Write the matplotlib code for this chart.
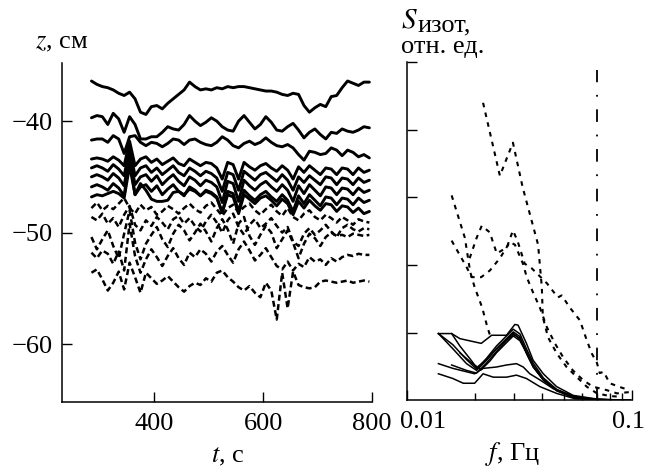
import numpy as np
import matplotlib
matplotlib.use("Agg")
from matplotlib import pyplot as plt
from matplotlib.ticker import NullFormatter
from matplotlib.transforms import ScaledTranslation

plt.rcParams['font.family'] = ['Liberation Serif', 'DejaVu Serif']
plt.rcParams['mathtext.fontset'] = 'stix'
plt.rcParams['font.size'] = 19

# time grid for the level records, s
t = np.arange(285, 800, 10)

# solid records (upper levels), cm
z1 = [-36.4, -36.7, -36.9, -37.0, -37.2, -37.5, -37.7, -37.4, -38.0, -39.2, -39.4, -38.7, -38.6,
      -38.9, -38.4, -38.0, -37.6, -37.2, -36.5, -36.9, -37.2, -37.1, -37.2, -37.0, -37.1, -36.9,
      -37.0, -36.9, -36.9, -37.0, -37.1, -37.2, -37.3, -37.3, -37.4, -37.6, -37.7, -37.5, -37.6,
      -38.6, -39.2, -38.8, -38.5, -38.7, -37.8, -37.7, -37.0, -36.4, -36.6, -36.8, -36.5, -36.5]
z2 = [-39.7, -39.5, -39.6, -40.3, -39.3, -39.8, -41.0, -39.6, -40.3, -41.6, -41.6, -41.4, -41.4,
      -41.0, -40.5, -40.7, -40.8, -40.3, -39.5, -40.0, -40.4, -40.1, -39.7, -40.0, -40.5, -40.8,
      -40.9, -40.0, -39.5, -40.1, -40.7, -40.3, -39.6, -40.1, -40.8, -40.9, -40.5, -40.2, -40.8,
      -41.5, -41.0, -40.7, -41.2, -41.6, -41.0, -41.1, -40.7, -40.9, -41.0, -40.8, -40.5, -40.6]
z3 = [-41.7, -41.6, -41.6, -41.9, -41.3, -41.6, -42.9, -41.4, -41.3, -41.9, -42.2, -41.9, -42.0,
      -42.3, -42.0, -41.6, -41.7, -42.1, -41.7, -41.6, -41.9, -42.1, -42.2, -41.9, -41.4, -41.7,
      -42.2, -42.4, -42.0, -41.8, -42.1, -41.9, -41.5, -41.9, -42.2, -42.3, -42.1, -42.4, -43.0,
      -43.5, -42.7, -42.8, -43.0, -42.9, -42.4, -42.6, -43.1, -42.6, -42.8, -43.2, -43.0, -43.3]
z4 = [-43.4, -43.3, -43.4, -43.6, -43.2, -43.5, -44.0, -41.8, -44.0, -43.4, -43.2, -43.7, -43.4,
      -43.9, -43.6, -43.3, -43.8, -44.0, -43.4, -43.7, -44.0, -43.7, -43.8, -44.2, -45.2, -43.7,
      -43.9, -45.2, -43.7, -44.1, -44.4, -44.0, -43.8, -44.2, -44.5, -44.0, -44.4, -45.2, -44.1,
      -44.6, -44.0, -44.4, -44.8, -44.2, -44.3, -44.8, -44.2, -44.3, -44.8, -44.2, -44.6, -44.4]
z5 = [-44.2, -44.0, -44.2, -44.5, -43.9, -44.3, -44.9, -42.4, -44.9, -44.2, -44.0, -44.6, -44.2,
      -44.8, -44.4, -44.0, -44.6, -44.9, -44.2, -44.5, -44.9, -44.5, -44.7, -45.1, -46.3, -44.6,
      -44.8, -46.2, -44.5, -44.9, -45.3, -44.8, -44.6, -45.0, -45.4, -44.8, -45.3, -46.2, -45.0,
      -45.5, -44.9, -45.3, -45.7, -45.0, -45.1, -45.7, -45.1, -45.2, -45.7, -45.1, -45.5, -45.3]
z6 = [-45.0, -44.8, -45.0, -45.3, -44.7, -45.1, -45.8, -43.0, -45.7, -45.0, -44.8, -45.4, -44.9,
      -45.7, -45.2, -44.8, -45.4, -45.8, -45.0, -45.3, -45.8, -45.3, -45.5, -45.9, -47.3, -45.4,
      -45.6, -47.2, -45.3, -45.8, -46.2, -45.7, -45.4, -45.9, -46.3, -45.7, -46.2, -47.2, -45.8,
      -46.5, -45.7, -46.2, -46.7, -45.9, -46.0, -46.6, -46.0, -46.1, -46.6, -46.0, -46.4, -46.2]
z7 = [-45.9, -45.7, -45.9, -46.2, -45.6, -46.0, -46.7, -43.3, -46.6, -45.9, -45.7, -46.3, -45.8,
      -46.6, -46.1, -45.7, -46.3, -46.7, -45.9, -46.2, -46.7, -46.2, -46.4, -46.8, -48.2, -46.3,
      -46.5, -48.1, -46.2, -46.7, -47.1, -46.6, -46.3, -46.8, -47.2, -46.6, -47.1, -48.1, -46.7,
      -47.4, -46.6, -47.1, -47.6, -46.8, -46.9, -47.5, -46.9, -47.0, -47.5, -46.9, -47.3, -47.1]
z8 = [-46.8, -46.6, -46.7, -46.5, -46.3, -46.5, -46.9, -44.0, -46.6, -45.6, -46.2, -47.0, -47.2,
      -47.2, -47.1, -46.4, -46.3, -46.6, -46.1, -46.3, -46.7, -46.3, -46.5, -46.9, -48.2, -46.6,
      -46.8, -48.3, -46.6, -47.0, -47.4, -46.9, -46.7, -47.1, -47.6, -47.0, -47.4, -48.4, -47.2,
      -47.8, -47.1, -47.6, -48.0, -47.4, -47.5, -48.1, -47.6, -47.7, -48.2, -47.8, -48.3, -48.1]

# dashed records (lower levels), cm
d1 = [-47.8, -47.3, -48.0, -47.6, -47.9, -47.4, -46.9, -47.8, -48.3, -47.5, -48.0, -47.7, -48.4,
      -48.1, -47.6, -47.9, -48.3, -47.8, -47.4, -47.9, -48.2, -47.6, -47.3, -47.9, -48.5, -47.8,
      -47.5, -48.2, -47.7, -47.4, -48.0, -48.4, -47.9, -47.5, -48.1, -48.5, -47.8, -48.6, -48.9,
      -48.3, -48.0, -48.6, -48.9, -48.4, -48.7, -49.1, -48.6, -48.9, -49.3, -48.8, -49.0, -49.1]
d2 = [-48.6, -48.9, -48.3, -49.2, -48.7, -49.5, -48.4, -47.6, -49.3, -49.8, -48.9, -49.4, -48.6,
      -49.1, -49.7, -48.8, -48.5, -49.2, -48.7, -49.4, -49.9, -49.0, -48.4, -49.1, -50.0, -48.9,
      -48.3, -49.5, -50.2, -49.3, -48.8, -49.6, -49.2, -48.7, -49.4, -50.0, -49.5, -50.8, -51.2,
      -50.1, -49.6, -50.2, -49.8, -49.3, -49.9, -50.4, -49.6, -49.3, -49.7, -49.9, -49.6, -49.7]
d3 = [-50.4, -51.5, -50.6, -49.8, -51.2, -52.3, -50.1, -48.0, -50.9, -52.4, -51.0, -50.2, -49.5,
      -50.6, -51.3, -50.1, -49.3, -49.8, -50.7, -50.0, -49.2, -49.9, -50.8, -49.6, -48.8, -49.7,
      -51.0, -49.2, -48.6, -50.3, -51.1, -50.2, -49.4, -50.0, -51.4, -50.6, -49.8, -50.9, -52.3,
      -51.0, -50.1, -50.5, -51.2, -50.4, -50.0, -50.3, -50.2, -50.4, -50.1, -50.2, -50.3, -50.2]
d4 = [-51.8, -52.3, -51.6, -51.9, -52.8, -51.7, -53.4, -49.2, -52.1, -53.6, -52.4, -51.5, -52.2,
      -53.0, -52.1, -51.4, -52.3, -52.9, -51.8, -52.2, -51.5, -51.9, -52.6, -51.7, -51.2, -52.0,
      -52.7, -51.5, -50.8, -51.6, -52.5, -52.0, -51.4, -52.2, -53.0, -53.3, -52.6, -53.4, -52.8,
      -53.1, -52.2, -52.6, -52.4, -52.9, -52.3, -52.6, -52.2, -52.0, -52.1, -51.9, -52.0, -52.0]
d5 = [-53.6, -53.3, -54.2, -55.2, -54.5, -53.5, -55.1, -52.7, -54.0, -55.4, -53.6, -54.1, -54.6,
      -54.3, -53.9, -54.4, -54.9, -55.3, -54.8, -54.5, -54.7, -54.1, -54.4, -53.6, -53.4, -54.0,
      -54.4, -54.9, -55.2, -54.8, -55.4, -55.8, -54.5, -55.2, -57.8, -53.6, -56.8, -53.5, -54.7,
      -54.9, -55.0, -54.9, -54.4, -54.3, -54.4, -54.5, -54.4, -54.3, -54.5, -54.4, -54.3, -54.4]

solid_z = [z1, z2, z3, z4, z5, z6, z7, z8]
dashed_z = [d1, d2, d3, d4, d5]

# spectra, rel. units
spec_dashed = [
    ([0.0218, 0.0259, 0.0296, 0.0327, 0.0383, 0.0398, 0.0402, 0.0424, 0.0464, 0.0513, 0.057, 0.063,
      0.07, 0.08, 0.09],
     [4.40, 3.32, 3.81, 3.15, 2.30, 1.67, 1.23, 0.93, 0.69, 0.49, 0.34, 0.20, 0.10, 0.06, 0.05]),
    ([0.0158, 0.0181, 0.0191, 0.0200, 0.0216, 0.0227, 0.0234],
     [3.03, 2.40, 1.90, 1.67, 1.37, 1.10, 0.96]),
    ([0.0190, 0.0204, 0.0215, 0.0234, 0.0240, 0.0251, 0.0278, 0.0296, 0.0310, 0.0334, 0.0359, 0.0419,
      0.0469, 0.0488, 0.053, 0.0588, 0.063, 0.0664, 0.070, 0.072, 0.075, 0.0797, 0.091, 0.098],
     [2.10, 2.40, 2.58, 2.48, 2.36, 2.17, 2.26, 2.51, 2.36, 2.02, 1.95, 1.73, 1.52, 1.55, 1.37, 1.18,
      0.89, 0.69, 0.55, 0.40, 0.42, 0.25, 0.18, 0.15]),
    ([0.0158, 0.0184, 0.0194, 0.0214, 0.0234, 0.0259, 0.0287, 0.0302, 0.0328, 0.0341, 0.0363, 0.039,
      0.0419, 0.0455, 0.0494, 0.0547, 0.0606, 0.067, 0.077, 0.086, 0.098],
     [2.36, 1.97, 1.82, 1.82, 1.92, 2.10, 2.34, 2.30, 2.02, 1.82, 1.60, 1.37, 1.08, 0.84, 0.64, 0.44,
      0.30, 0.20, 0.15, 0.10, 0.12]),
]
spec_solid = [
    ([0.0138, 0.0158, 0.0172, 0.0214, 0.0238, 0.0277, 0.0302, 0.0312, 0.034, 0.0364, 0.0404, 0.0463,
      0.0549, 0.072, 0.098],
     [0.985, 0.985, 0.91, 0.84, 0.96, 0.96, 1.12, 1.11, 0.84, 0.59, 0.39, 0.20, 0.07, 0.01, 0.0]),
    ([0.0138, 0.016, 0.0184, 0.0204, 0.0226, 0.025, 0.0277, 0.0297, 0.0318, 0.034, 0.0364, 0.0404,
      0.0463, 0.0549, 0.065, 0.098],
     [0.985, 0.76, 0.54, 0.44, 0.59, 0.76, 0.91, 1.01, 0.94, 0.69, 0.49, 0.30, 0.15, 0.05, 0.01, 0.0]),
    ([0.0138, 0.016, 0.0184, 0.020, 0.0218, 0.025, 0.0277, 0.0307, 0.0329, 0.0352, 0.039, 0.0447,
      0.055, 0.07, 0.098],
     [0.54, 0.47, 0.42, 0.39, 0.47, 0.49, 0.52, 0.54, 0.49, 0.39, 0.30, 0.17, 0.06, 0.01, 0.0]),
    ([0.0138, 0.016, 0.0178, 0.020, 0.0218, 0.0242, 0.0277, 0.0307, 0.034, 0.039, 0.0463, 0.056, 0.098],
     [0.39, 0.32, 0.25, 0.25, 0.39, 0.34, 0.34, 0.37, 0.32, 0.20, 0.10, 0.02, 0.0]),
    ([0.0158, 0.0184, 0.0204, 0.0226, 0.025, 0.0277, 0.0297, 0.0318, 0.034, 0.0364, 0.0404, 0.0463,
      0.055, 0.065, 0.098],
     [0.52, 0.44, 0.40, 0.55, 0.72, 0.88, 0.97, 0.92, 0.72, 0.50, 0.30, 0.14, 0.04, 0.01, 0.0]),
    ([0.0138, 0.016, 0.0184, 0.0204, 0.0226, 0.025, 0.0277, 0.0297, 0.0318, 0.034, 0.0364, 0.0404,
      0.0463, 0.055, 0.065, 0.098],
     [0.985, 0.82, 0.60, 0.46, 0.62, 0.80, 0.95, 1.05, 0.98, 0.76, 0.55, 0.33, 0.16, 0.05, 0.01, 0.0]),
    ([0.0158, 0.0172, 0.0194, 0.0204, 0.0226, 0.025, 0.0277, 0.0297, 0.0318, 0.034, 0.0364, 0.0404,
      0.0463, 0.055, 0.065, 0.098],
     [0.985, 0.80, 0.58, 0.48, 0.60, 0.76, 0.90, 0.99, 0.90, 0.70, 0.51, 0.31, 0.15, 0.05, 0.01, 0.0]),
    ([0.0172, 0.0194, 0.0214, 0.0234, 0.025, 0.0277, 0.0297, 0.0318, 0.034, 0.0364, 0.0404, 0.0463,
      0.055, 0.065, 0.098],
     [0.70, 0.55, 0.45, 0.58, 0.70, 0.85, 0.95, 0.88, 0.70, 0.50, 0.30, 0.14, 0.04, 0.01, 0.0]),
]
f_cut = 0.07
s_cut_top = 4.88

fig = plt.figure(figsize=(6.46, 4.68), dpi=100)
ax1 = fig.add_axes([0.096, 0.141, 0.480, 0.724])
ax2 = fig.add_axes([0.630, 0.145, 0.348, 0.722])

# left: level records
for z in solid_z:
    ax1.plot(t, z, color="black", lw=2.1, solid_joinstyle="round", solid_capstyle="round")
for z in dashed_z:
    ax1.plot(t, z, color="black", lw=1.8, dashes=(2.4, 1.4))

ax1.set_xlim(231, 800)
ax1.set_ylim(-65.2, -34.8)
ax1.set_xticks([400, 600, 800])
ax1.set_yticks([-40, -50, -60])

# right: spectra
for f, s in spec_solid:
    ax2.plot(f, s, color="black", lw=1.1)
for f, s in spec_dashed:
    ax2.plot(f, s, color="black", lw=1.5, dashes=(2.2, 2.6))
ax2.plot([f_cut, f_cut], [0, s_cut_top], color="black", lw=1.3, dashes=(7, 7, 1, 7))

ax2.set_xscale("log")
ax2.set_xlim(0.01, 0.1)
ax2.set_ylim(0, 5)
ax2.set_xticks([0.01, 0.1])
ax2.set_xticklabels(["0.01", "0.1"])
ax2.xaxis.set_minor_formatter(NullFormatter())
ax2.set_yticks([1, 2, 3, 4, 5])
ax2.set_yticklabels([])

for ax in (ax1, ax2):
    ax.spines["top"].set_visible(False)
    ax.spines["right"].set_visible(False)
    ax.spines["left"].set_linewidth(1.1)
    ax.spines["bottom"].set_linewidth(1.1)
    ax.tick_params(which="major", direction="in", length=7, width=1.0, pad=7)
    ax.tick_params(which="minor", direction="in", length=5, width=1.0)
ax1.tick_params(axis="x", pad=8)
ax2.tick_params(axis="x", pad=8)

# shift "0.01" right so it clears "800", and "0.1" a bit left of the edge
ticks2 = ax2.xaxis.get_major_ticks()
lbl = ticks2[0].label1
lbl.set_transform(lbl.get_transform() + ScaledTranslation(0.16, 0, fig.dpi_scale_trans))
lbl = ticks2[1].label1
lbl.set_transform(lbl.get_transform() + ScaledTranslation(-0.03, 0, fig.dpi_scale_trans))

fig.text(35 / 646, 1 - 48 / 468, "$z$, см", va="baseline", ha="left")
fig.text(228 / 646, 1 - 462 / 468, "$t$, с", va="baseline", ha="center")
fig.text(401 / 646, 1 - 28 / 468, "$S$", va="baseline", ha="left", fontsize=21)
fig.text(417 / 646, 1 - 31 / 468, "изот,", va="baseline", ha="left")
fig.text(401 / 646, 1 - 53 / 468, "отн. ед.", va="baseline", ha="left")
fig.text(513 / 646, 1 - 460 / 468, "$f$, Гц", va="baseline", ha="center")

fig.savefig("out.png", dpi=100)
